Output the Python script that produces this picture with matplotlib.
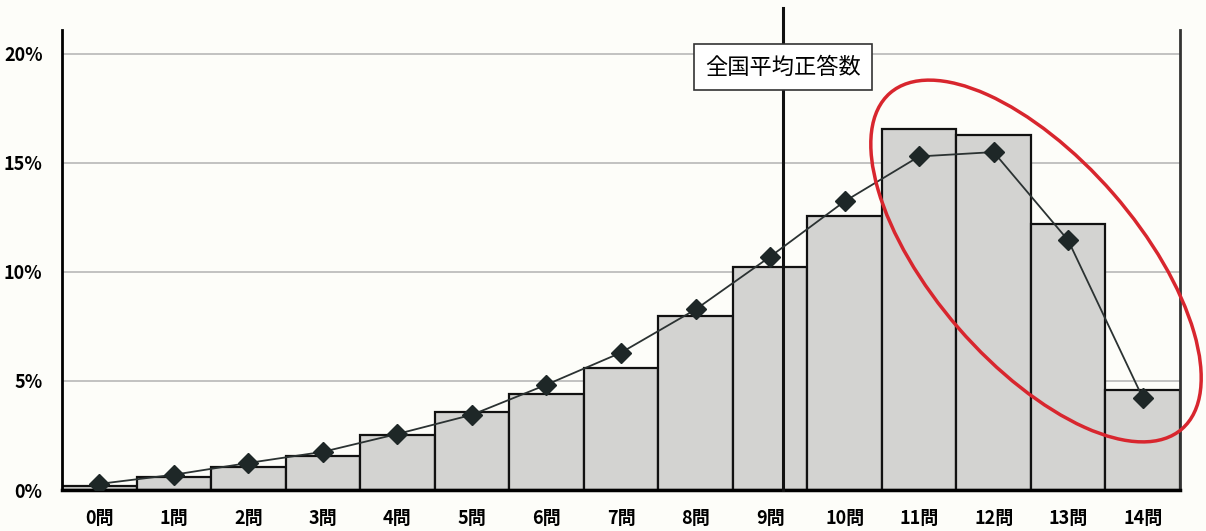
import matplotlib.pyplot as plt
from matplotlib.patches import Ellipse
from matplotlib.transforms import IdentityTransform

plt.rcParams['font.family'] = ['Noto Sans CJK JP', 'DejaVu Sans']

# number of correct answers 0..14
labels = [str(i) + '問' for i in range(15)]
# school distribution (bars), percent
school = [0.18, 0.6, 1.06, 1.56, 2.5, 3.6, 4.4, 5.6, 8.0, 10.25, 12.55, 16.55, 16.3, 12.2, 4.6]
# national distribution (line), percent
national = [0.28, 0.7, 1.24, 1.75, 2.57, 3.45, 4.83, 6.3, 8.28, 10.7, 13.24, 15.3, 15.5, 11.45, 4.23]
national_mean = 9.17

fig = plt.figure(figsize=(12.06, 5.31), dpi=100)
fig.patch.set_facecolor('#fdfdf9')
ax = fig.add_axes([62 / 1206, 41 / 531, 1118 / 1206, 460 / 531])
ax.set_facecolor('#fdfdf9')

x = list(range(15))
ax.bar(x, school, width=1.0, color='#d3d3d1', edgecolor='#111111', linewidth=1.6, zorder=2)
ax.plot(x, national, color='#2b3232', linewidth=1.3, marker='D', markersize=10,
        markerfacecolor='#1e2727', markeredgecolor='#1e2727', zorder=4)

ax.set_xlim(-0.5, 14.5)
ax.set_ylim(0, 21.1)
ax.set_yticks([0, 5, 10, 15, 20])
ax.set_yticklabels(['0%', '5%', '10%', '15%', '20%'])
ax.set_xticks(x)
ax.set_xticklabels(labels)
ax.yaxis.grid(True, color='#b8b8b8', linewidth=1.2, zorder=0)
ax.set_axisbelow(True)
ax.tick_params(axis='x', length=0, labelsize=13, pad=14)
ax.tick_params(axis='y', length=0, labelsize=13, pad=14)
for lab in ax.get_xticklabels() + ax.get_yticklabels():
    lab.set_fontweight('bold')

ax.spines['top'].set_visible(False)
ax.spines['left'].set_linewidth(2)
ax.spines['bottom'].set_linewidth(2.5)
ax.spines['right'].set_linewidth(2)
ax.spines['right'].set_color('#333333')

# national average line, extends above the axes
ax.axvline(national_mean, ymin=0, ymax=1.048, color='#111111', linewidth=2.2, zorder=3, clip_on=False)
ax.text(national_mean, 19.4, '全国平均正答数', ha='center', va='center', fontsize=16,
        bbox=dict(boxstyle='square,pad=0.5', facecolor='white', edgecolor='#333333', linewidth=1.2),
        zorder=5)

# red circle around 11-14
ell = Ellipse((1036, 531 - 261), 445, 205, angle=-49, fill=False, edgecolor='#d8262e',
              linewidth=2.5, transform=IdentityTransform(), zorder=6)
fig.patches.append(ell)

fig.savefig('out.png', dpi=100, facecolor=fig.get_facecolor())
